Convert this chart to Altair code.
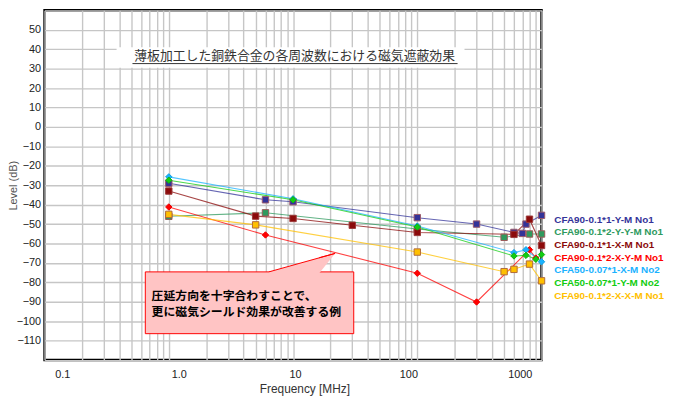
import altair as alt
import pandas as pd

# ---------------- data ----------------
names = ["CFA90-0.1*1-Y-M No1", "CFA90-0.1*2-Y-Y-M No1", "CFA90-0.1*1-X-M No1",
         "CFA90-0.1*2-X-Y-M No1", "CFA50-0.07*1-X-M No2", "CFA50-0.07*1-Y-M No2",
         "CFA90-0.1*2-X-X-M No1"]
colors = ["#333399", "#2e9a5e", "#8b0a0a", "#ff0000", "#1ab2ff", "#11cc11", "#ffc000"]
shapes = ["square", "square", "square", "diamond", "diamond", "diamond", "square"]
edges = ["#9c5a6a", "#9c5a5a", "#9c3a3a", "#ee0000", "#10a0e0", "#10b010", "#b06a3a"]

f1 = [1, 6, 10, 100, 300, 600, 700, 750, 1000]
v1 = [-29, -37.5, -38.5, -46.7, -50, -54.3, -54.8, -50, -45.5]
f2 = [1, 6, 100, 500, 800, 1000]
v2 = [-46, -44.2, -52.5, -56.8, -55.1, -55.1]
f3 = [1, 5, 10, 30, 100, 600, 800, 1000]
v3 = [-33, -45.9, -47.1, -50.6, -54.3, -55.3, -47.5, -61]
f4 = [1, 6, 100, 300, 800, 900]
v4 = [-41.2, -55.6, -75.3, -90.1, -63.2, -67.5]
f5 = [1, 10, 100, 600, 750, 1000]
v5 = [-25.7, -37, -51, -64.7, -63.2, -69.4]
f6 = [1, 10, 100, 600, 750, 900, 1000]
v6 = [-27.4, -37.5, -51.5, -66.4, -66.1, -68.1, -65.7]
f7 = [1, 5, 100, 500, 600, 800, 1000]
v7 = [-45, -50.4, -64.4, -74.5, -73.3, -70.6, -79.2]

freqs = [f1, f2, f3, f4, f5, f6, f7]
vals = [v1, v2, v3, v4, v5, v6, v7]

x_major = [0.1, 1, 10, 100, 1000]
x_labels = ["0.1", "1.0", "10", "100", "1000"]
y_ticks = list(range(-120, 61, 10))

chart_title = "薄板加工した銅鉄合金の各周波数における磁気遮蔽効果"
title_at = {"freq": [10.3], "level": [36.3]}
title_bg = {"freq": [0.38], "freq2": [240], "level": [41.0], "level2": [30.5]}
underline = {"freq": [0.51], "freq2": [211], "level": [32.6]}

callout_lines = ["圧延方向を十字合わすことで、", "更に磁気シールド効果が改善する例"]
callout_f = [0.727, 0.727]
callout_v = [-87.2, -95.4]
callout_box = {"freq": [0.647], "freq2": [30.8], "level": [-74.6], "level2": [-106.4]}
pointer_f = [6.39, 16.25, 21.8]
pointer_lo = [-75.3, -75.3, -65.1]
pointer_hi = [-74.6, -67.3, -65.1]

# ---------------- tables ----------------
rows = []
for i, (fs, vs) in enumerate(zip(freqs, vals)):
    for f, v in zip(fs, vs):
        rows.append({"series": names[i], "freq": f, "level": v, "order": i,
                     "fillc": colors[i], "edge": edges[i], "shape": shapes[i]})
df = pd.DataFrame(rows)

grid_x = []
for e in [0.1, 1, 10, 100]:
    for m in range(1, 10):
        grid_x.append(round(m * e, 6))
grid_x.append(1000)

label_expr = " : ".join(
    [f"datum.value == {v} ? '{l}'" for v, l in zip(x_major, x_labels)]) + " : ''"
offset_expr = ("datum.value < 0.5 ? 18 : datum.value < 5 ? 10 : "
               "datum.value > 500 ? -22 : datum.value > 50 ? -9 : 2")

xs = alt.Scale(type="log", domain=[0.1, 1000], nice=False)
ys = alt.Scale(domain=[-120, 60], nice=False, zero=False)

xaxis = alt.Axis(values=grid_x, labelExpr=label_expr, grid=True, ticks=False,
                 domain=False, labelPadding=9, labelOverlap=False, labelBound=False,
                 labelFlush=False,
                 labelOffset=alt.ExprRef(expr=offset_expr),
                 title="Frequency [MHz]", titleX=263, titleY=29,
                 titleBaseline="middle", titleFontSize=12, titleFontWeight="normal",
                 titleColor="#333", titleFont="Liberation Sans")
yaxis = alt.Axis(values=y_ticks,
                 labelExpr="datum.value < -115 || datum.value > 55 ? '' : datum.label",
                 grid=True, ticks=False, domain=False, labelPadding=4,
                 labelOverlap=False, labelFlush=False,
                 title="Level (dB)", titleX=-31, titleY=177, titleAngle=-90,
                 titleBaseline="middle", titleAlign="center", titleFontSize=11,
                 titleFontWeight="normal", titleColor="#555",
                 titleFont="Liberation Sans")

X = alt.X("freq:Q", scale=xs, axis=xaxis, title="Frequency [MHz]")
Y = alt.Y("level:Q", scale=ys, axis=yaxis, title="Level (dB)")

legend = alt.Legend(orient="none", legendX=506, legendY=207, title=None,
                    symbolSize=0, symbolStrokeWidth=0, symbolOpacity=0,
                    labelOffset=0, padding=0, rowPadding=2.8,
                    labelFont="Liberation Sans", labelFontSize=10,
                    labelFontWeight="bold", labelLimit=300,
                    labelColor=alt.ExprRef(expr="scale('color', datum.value)"))

lines = alt.Chart(df).mark_line(strokeWidth=1.1, opacity=0.75).encode(
    x=X, y=Y,
    color=alt.Color("series:N", scale=alt.Scale(domain=names, range=colors),
                    legend=legend, sort=names),
    detail="series:N",
    order="freq:Q",
)

points = alt.Chart(df).mark_point(filled=True, size=42, strokeWidth=1, opacity=1).encode(
    x=X, y=Y,
    fill=alt.Fill("fillc:N", scale=None),
    stroke=alt.Stroke("edge:N", scale=None),
    shape=alt.Shape("shape:N", scale=None),
    order="order:Q",
)

tbg = alt.Chart(pd.DataFrame(title_bg)).mark_rect(color="white").encode(
    x=X, x2=alt.X2("freq2:Q", title="Frequency [MHz]"),
    y=Y, y2=alt.Y2("level2:Q", title="Level (dB)"))
ttext = alt.Chart(pd.DataFrame({"t": [chart_title], **title_at})).mark_text(
    font="Noto Sans CJK JP", fontSize=13, color="#333", align="center",
    baseline="middle").encode(x=X, y=Y, text="t:N")
uline = alt.Chart(pd.DataFrame(underline)).mark_rule(color="#333", strokeWidth=1).encode(
    x=X, x2=alt.X2("freq2:Q", title="Frequency [MHz]"), y=Y)

cbox = alt.Chart(pd.DataFrame(callout_box)).mark_rect(
    fill="#ffc4c4", stroke="#ff0000", strokeWidth=1).encode(
    x=X, x2=alt.X2("freq2:Q", title="Frequency [MHz]"),
    y=Y, y2=alt.Y2("level2:Q", title="Level (dB)"))
ptr = alt.Chart(pd.DataFrame({"freq": pointer_f, "level": pointer_lo,
                              "level2": pointer_hi})).mark_area(
    color="#ffc4c4", opacity=1).encode(
    x=X, y=Y, y2=alt.Y2("level2:Q", title="Level (dB)"))
edge_df = pd.DataFrame({
    "freq": [pointer_f[0], pointer_f[2], pointer_f[1], pointer_f[2]],
    "level": [pointer_hi[0], pointer_hi[2], pointer_hi[1], pointer_hi[2]],
    "seg": ["a", "a", "b", "b"]})
pedge = alt.Chart(edge_df).mark_line(color="#ff0000", strokeWidth=1).encode(
    x=X, y=Y, detail="seg:N")
ctext = alt.Chart(pd.DataFrame({"t": callout_lines, "freq": callout_f,
                                "level": callout_v})).mark_text(
    font="Noto Sans CJK JP", fontSize=12, fontWeight="bold", color="black",
    align="left", baseline="middle").encode(x=X, y=Y, text="t:N")

chart = alt.layer(tbg, ttext, uline, lines, points, cbox, ptr, pedge, ctext).properties(
    width=503, height=354,
    background="white",
    autosize=alt.AutoSizeParams(type="none"),
    padding={"left": 37, "top": 0, "right": 127, "bottom": 36},
).configure_view(stroke="black", strokeWidth=2.5).configure_axis(
    gridColor="#c6c6c6", gridWidth=1.4, labelFont="Liberation Sans",
    labelFontSize=11, labelColor="#222"
)

chart.save("out.html", embed_options={"renderer": "svg", "actions": False})
